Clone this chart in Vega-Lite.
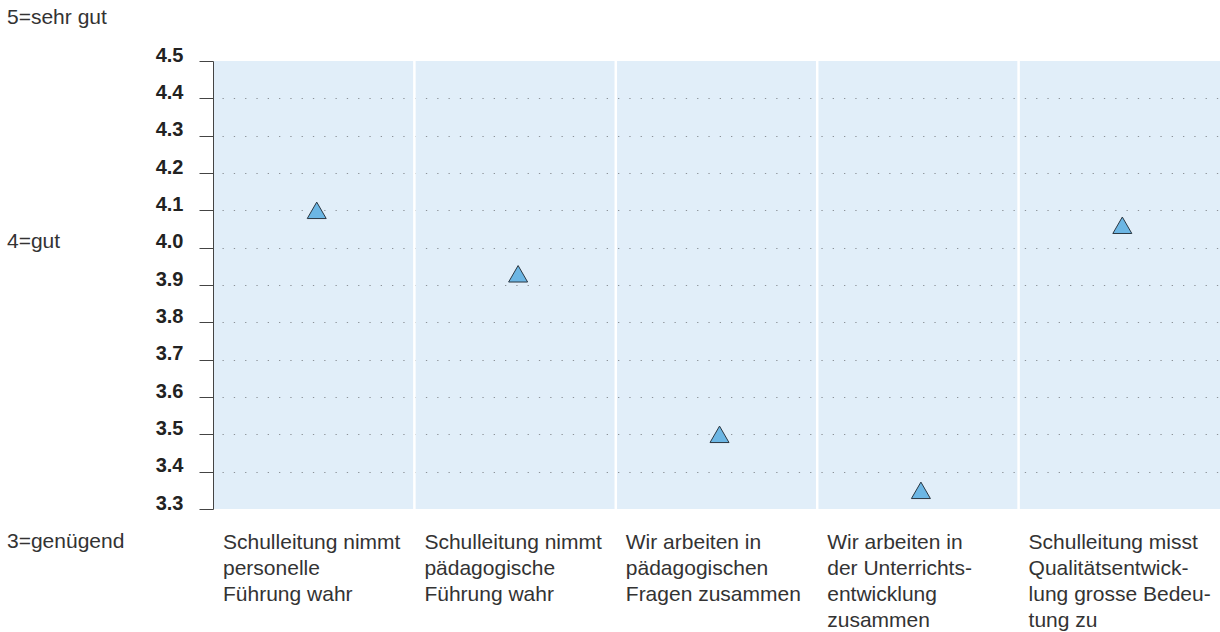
{
  "$schema": "https://vega.github.io/schema/vega-lite/v6.json",
  "width": 1007,
  "height": 448,
  "autosize": "none",
  "padding": {"left": 213, "top": 61, "right": 0, "bottom": 123},
  "config": {
    "view": {"fill": "#e1eef9", "stroke": null},
    "font": "Liberation Sans"
  },
  "data": {
    "values": [
      {"item": "Schulleitung nimmt|personelle|Führung wahr", "mittelwert": 4.10},
      {"item": "Schulleitung nimmt|pädagogische|Führung wahr", "mittelwert": 3.93},
      {"item": "Wir arbeiten in|pädagogischen|Fragen zusammen", "mittelwert": 3.50},
      {"item": "Wir arbeiten in|der Unterrichts-|entwicklung|zusammen", "mittelwert": 3.35},
      {"item": "Schulleitung misst|Qualitätsentwick-|lung grosse Bedeu-|tung zu", "mittelwert": 4.06}
    ]
  },
  "layer": [
    {
      "mark": {"type": "rule", "color": "#ffffff", "strokeWidth": 2.5},
      "encoding": {
        "x": {
          "field": "item", "type": "nominal", "sort": null, "bandPosition": 0,
          "scale": {"type": "band", "paddingInner": 0, "paddingOuter": 0},
          "axis": {
            "title": null, "orient": "bottom", "domain": false, "ticks": false, "tickSize": 0,
            "labelAlign": "left", "labelBaseline": "alphabetic",
            "labelPadding": 39, "labelOffset": -90.7, "labelFontSize": 21, "labelFontWeight": "normal", "labelColor": "#333333",
            "labelLineHeight": 26, "labelLimit": 0, "labelOverlap": false, "labelAngle": 0,
            "labelExpr": "split(datum.label, '|')", "grid": false
          }
        },
        "strokeOpacity": {
          "condition": {"test": "indexof(datum.item, 'personelle') >= 0", "value": 0},
          "value": 1
        }
      }
    },
    {
      "mark": {"type": "point", "shape": "triangle-up", "filled": true, "fill": "#6cb6e4", "stroke": "#2b3742", "strokeWidth": 1, "size": 361, "opacity": 1},
      "encoding": {
        "x": {
          "field": "item", "type": "nominal", "sort": null, "bandPosition": 0.515,
          "scale": {"type": "band", "paddingInner": 0, "paddingOuter": 0},
          "axis": {
            "title": null, "orient": "bottom", "domain": false, "ticks": false, "tickSize": 0,
            "labelAlign": "left", "labelBaseline": "alphabetic",
            "labelPadding": 39, "labelOffset": -90.7, "labelFontSize": 21, "labelFontWeight": "normal", "labelColor": "#333333",
            "labelLineHeight": 26, "labelLimit": 0, "labelOverlap": false, "labelAngle": 0,
            "labelExpr": "split(datum.label, '|')", "grid": false
          }
        },
        "y": {
          "field": "mittelwert", "type": "quantitative",
          "scale": {"domain": [3.3, 4.5], "nice": false, "zero": false},
          "axis": {
            "title": null, "values": [3.3, 3.4, 3.5, 3.6, 3.7, 3.8, 3.9, 4.0, 4.1, 4.2, 4.3, 4.4, 4.5],
            "tickCount": 30,
            "format": ".1f", "labelFontWeight": "bold", "labelFontSize": 20, "labelColor": "#222222",
            "labelBaseline": "alphabetic", "labelPadding": 16, "tickSize": 14, "tickColor": "#444444",
            "domainColor": "#444444", "labelOverlap": false, "labelFlush": false,
            "grid": true, "gridColor": "#8c9298", "gridDash": [1.3, 10], "gridDashOffset": 2.3,
            "gridOpacity": {"condition": {"test": "datum.value > 4.45 || datum.value < 3.35", "value": 0}, "value": 1}
          }
        }
      }
    },
    {
      "data": {"values": [{"note": "5=sehr gut"}]},
      "mark": {"type": "text", "align": "left", "baseline": "alphabetic", "dx": -206, "fontSize": 21, "fontWeight": "normal", "fill": "#333333"},
      "encoding": {"x": {"value": 0}, "y": {"datum": 4.6}, "text": {"field": "note"}}
    },
    {
      "data": {"values": [{"note": "4=gut"}]},
      "mark": {"type": "text", "align": "left", "baseline": "alphabetic", "dx": -206, "fontSize": 21, "fontWeight": "normal", "fill": "#333333"},
      "encoding": {"x": {"value": 0}, "y": {"datum": 4.0}, "text": {"field": "note"}}
    },
    {
      "data": {"values": [{"note": "3=genügend"}]},
      "mark": {"type": "text", "align": "left", "baseline": "alphabetic", "dx": -206, "fontSize": 21, "fontWeight": "normal", "fill": "#333333"},
      "encoding": {"x": {"value": 0}, "y": {"datum": 3.195}, "text": {"field": "note"}}
    }
  ]
}
